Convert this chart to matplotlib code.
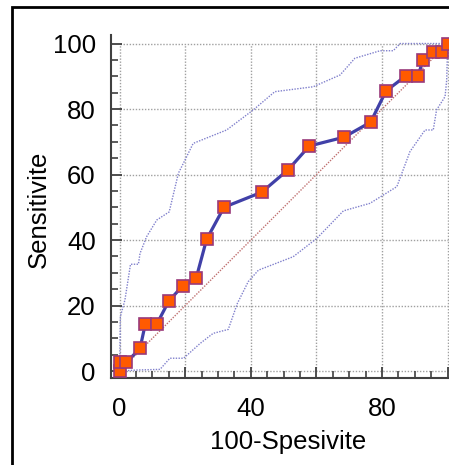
import numpy as np
import matplotlib.pyplot as plt
from matplotlib.patches import Rectangle

# ROC points (100-Spesivite, Sensitivite)
fpr = [0, 0, 2.0, 6.2, 7.8, 11.3, 15.0, 19.2, 23.3, 26.5, 31.8, 43.3,
       51.4, 57.8, 68.4, 76.5, 81.2, 87.2, 91.0, 92.4, 95.6, 98.4, 100]
tpr = [0, 2.6, 2.6, 6.9, 14.3, 14.3, 21.4, 26.0, 28.3, 40.2, 50.0, 54.6,
       61.5, 68.7, 71.4, 76.0, 85.5, 90.1, 90.1, 94.9, 97.5, 97.5, 100]

# confidence bounds
up_x = [0, 0.2, 1.6, 3.3, 5.7, 6.2, 8.2, 11.3, 15.1, 17.9, 19.9, 22.4, 32.6,
        40.7, 47.3, 59.0, 67.2, 71.7, 79.4, 83.4, 85.5, 100]
up_y = [0, 16.6, 21.7, 32.6, 32.6, 35.9, 41.0, 46.1, 48.6, 60.4, 64.4, 69.5, 73.6,
        79.7, 85.3, 86.8, 90.4, 95.5, 97.8, 97.8, 100, 100]
lo_x = [0, 0.3, 5.2, 12.3, 15.3, 19.5, 24.5, 28.5, 33.1, 35.9, 39.2, 42.3, 52.9,
        60.1, 68.2, 76.3, 84.5, 88.5, 93.1, 95.6, 96.6, 99.2, 99.7, 100]
lo_y = [0, 0, 0.3, 0.5, 3.9, 3.9, 8.4, 11.5, 12.7, 20.7, 27.3, 30.8, 34.9,
        40.5, 48.9, 51.2, 56.3, 67.0, 73.6, 73.6, 79.7, 83.8, 88.9, 100]

grid_pos = [0, 20, 40, 60, 80, 100]
y_labels = ['0', '20', '40', '60', '80', '100']
x_labels = ['0', '', '40', '', '80', '']

plt.rcParams['font.family'] = ['Liberation Sans', 'DejaVu Sans']

fig = plt.figure(figsize=(4.49, 4.65), dpi=100)
ax = fig.add_axes([0.2472, 0.1877, 0.7528, 0.737])

# dotted grid limited to 0..100
ax.hlines(grid_pos, 0, 100, colors='#a0a0a0', linestyles=(0, (1, 1.2)), lw=1, zorder=1)
ax.vlines(grid_pos, 0, 100, colors='#a0a0a0', linestyles=(0, (1, 1.2)), lw=1, zorder=1)

ax.plot([0, 100], [0, 100], ls=(0, (1, 1)), color='#c07070', lw=1, zorder=2)
ax.plot(up_x, up_y, ls=(0, (1, 1)), color='#8080cc', lw=1, zorder=2)
ax.plot(lo_x, lo_y, ls=(0, (1, 1)), color='#8080cc', lw=1, zorder=2)

ax.plot(fpr, tpr, '-s', color='#4040a8', lw=2.3, ms=8.5,
        mfc='#ff5a00', mec='#9a3a7a', mew=1.2, zorder=3)

ax.set_xlim(-2.65, 100.4)
ax.set_ylim(-2.05, 102.6)

ax.set_xticks(grid_pos)
ax.set_xticklabels(x_labels)
ax.set_yticks(grid_pos)
ax.set_yticklabels(y_labels)
ax.set_xticks(np.arange(0, 101, 5), minor=True)
ax.set_yticks(np.arange(0, 101, 5), minor=True)

ax.tick_params(which='major', direction='in', length=8, width=1.3, color='#404040',
               labelsize=18.5)
ax.tick_params(which='minor', direction='in', length=5, width=1.2, color='#404040')
ax.tick_params(axis='x', which='major', pad=14)
ax.tick_params(axis='y', which='major', pad=11)

for s in ['top', 'right']:
    ax.spines[s].set_visible(False)
for s in ['left', 'bottom']:
    ax.spines[s].set_color('#404040')
    ax.spines[s].set_linewidth(1.5)

ax.set_xlabel('100-Spesivite', fontsize=18.5)
ax.set_ylabel('Sensitivite', fontsize=18.5)
ax.xaxis.set_label_coords(0.524, -0.153)
ax.yaxis.set_label_coords(-0.178, 0.49)

# outer frame
fig.patches.append(Rectangle((12 / 449, -0.1), 1.2, 1 - 6.7 / 465 + 0.1,
                             transform=fig.transFigure, fill=False,
                             edgecolor='black', lw=2))

fig.savefig('out.png', dpi=100)
